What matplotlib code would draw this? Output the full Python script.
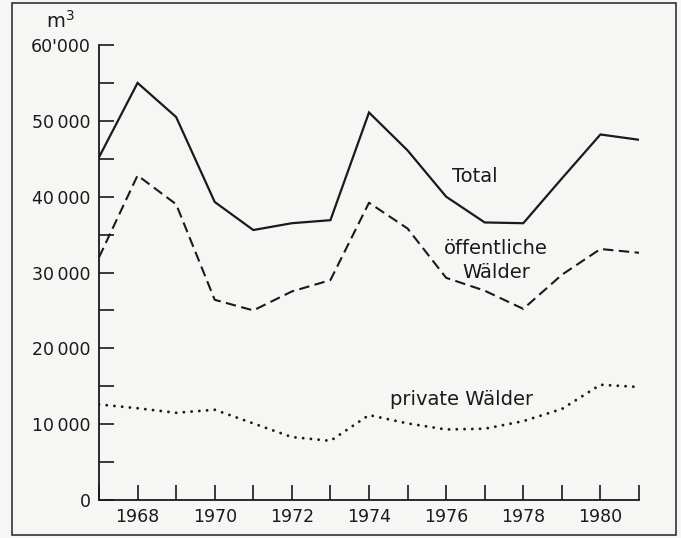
import matplotlib
matplotlib.use("Agg")
import matplotlib.pyplot as plt
from matplotlib.patches import Rectangle

# Holznutzung in m3, 1967-1981
jahre = list(range(1967, 1982))
total = [45200, 55000, 50500, 39300, 35600, 36500, 36900, 51100, 46100,
         40000, 36600, 36500, 42400, 48200, 47500]
oeffentlich = [32000, 42800, 39000, 26400, 25000, 27500, 29000, 39200, 35800,
               29300, 27600, 25200, 29700, 33100, 32600]
privat = [12600, 12100, 11500, 11900, 10100, 8300, 7800, 11200, 10100,
          9300, 9400, 10400, 12000, 15200, 14900]

y_ticks = [0, 10000, 20000, 30000, 40000, 50000, 60000]
y_labels = ["0", "10\u2009000", "20\u2009000", "30\u2009000", "40\u2009000", "50\u2009000", "60'000"]
x_labels = [1968, 1970, 1972, 1974, 1976, 1978, 1980]

plt.rcParams['font.family'] = ['DejaVu Sans']

bg = '#f6f6f4'
fig = plt.figure(figsize=(6.81, 5.38), dpi=100, facecolor=bg)
ax = fig.add_axes([99/681, 38/538, 540/681, 455/538])
ax.set_facecolor(bg)

ink = '#1a1a1a'
ax.plot(jahre, total, color=ink, lw=1.6, solid_joinstyle='miter')
ax.plot(jahre, oeffentlich, color=ink, lw=1.5, dashes=(5, 2.6))
ax.plot(jahre, privat, color=ink, lw=2.1, dashes=(0.01, 2.65), dash_capstyle='round')

ax.set_xlim(1967, 1981)
ax.set_ylim(0, 60000)

for s in ['top', 'right']:
    ax.spines[s].set_visible(False)
for s in ['left', 'bottom']:
    ax.spines[s].set_linewidth(1.3)
    ax.spines[s].set_color(ink)

ax.set_xticks(jahre, minor=False)
ax.set_xticklabels([str(j) if j in x_labels else "" for j in jahre])
ax.set_yticks(y_ticks)
ax.set_yticklabels(y_labels)
ax.set_yticks(range(5000, 60000, 10000), minor=True)
ax.tick_params(axis='both', which='both', direction='in', length=11, width=1.2,
               color=ink, labelsize=12.5, labelcolor=ink)
ax.tick_params(axis='x', pad=6)
ax.tick_params(axis='y', pad=6)

ax.text(-0.072, 1.03, "m$^3$", transform=ax.transAxes, fontsize=14, color=ink,
        ha='center', va='bottom')

ax.text(1976.75, 42700, "Total", fontsize=14, color=ink, ha='center', va='center')
ax.text(1977.3, 33200, "öffentliche", fontsize=14, color=ink, ha='center', va='center')
ax.text(1977.3, 30000, "Wälder", fontsize=14, color=ink, ha='center', va='center')
ax.text(1976.4, 13200, "private Wälder", fontsize=14, color=ink, ha='center', va='center')

fig.patches.append(Rectangle((12/681, 3/538), 664/681, 532/538, transform=fig.transFigure,
                             fill=False, edgecolor='#333333', lw=1.2))

fig.savefig("out.png", dpi=100, facecolor=bg)
